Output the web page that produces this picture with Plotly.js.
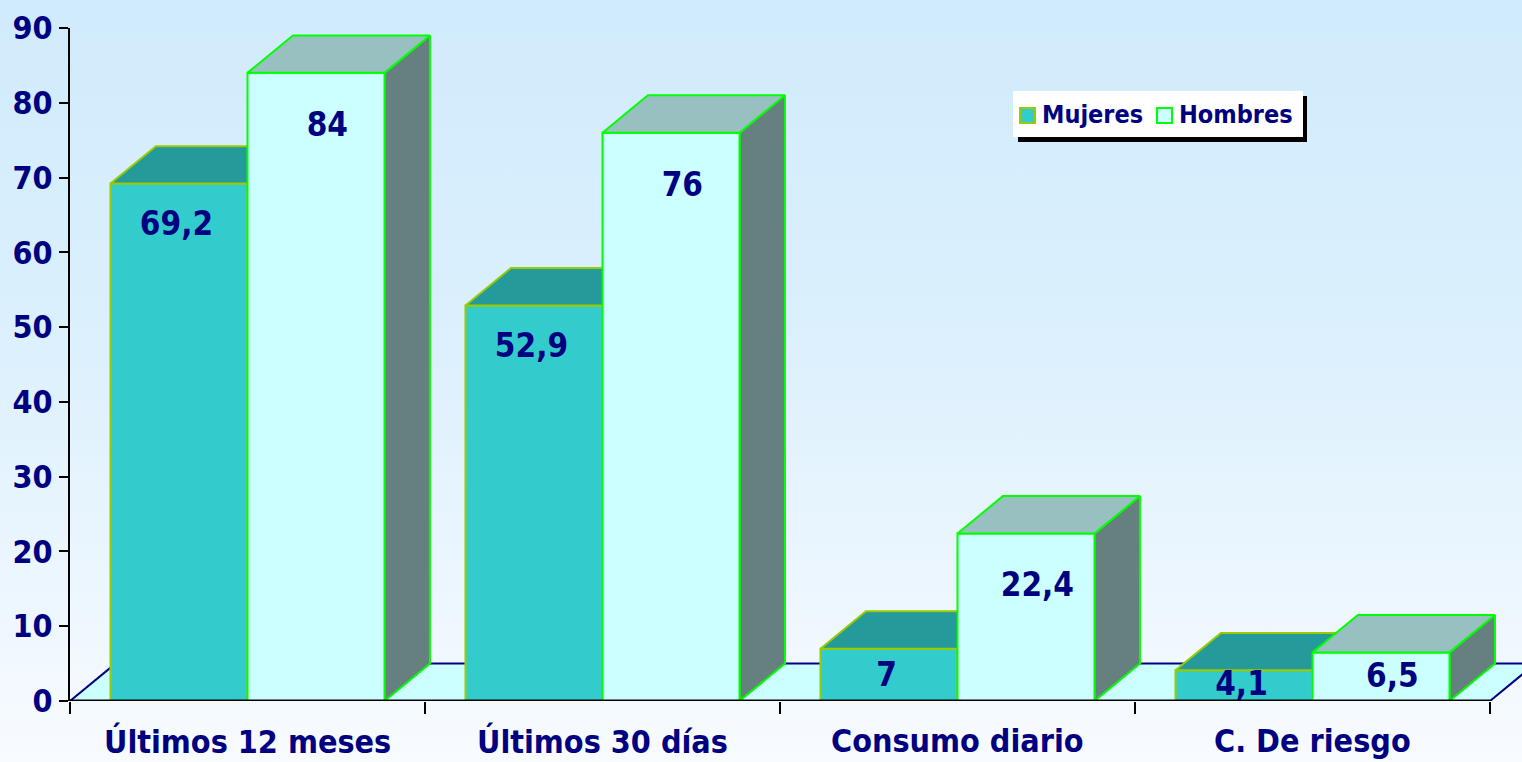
<!DOCTYPE html>
<html>
<head>
<meta charset="utf-8">
<script src="https://cdn.plot.ly/plotly-3.0.1.min.js"></script>
<style>
  html, body { margin: 0; padding: 0; }
  body { width: 1522px; height: 762px; background: linear-gradient(to bottom, #d0ebfc 0%, #dcf0fd 45%, #f8fbff 100%); overflow: hidden; }
  #chart { width: 1522px; height: 762px; }
</style>
</head>
<body>
<div id="chart"></div>
<script>
// ---- data ----
const categories = ['Últimos 12 meses', 'Últimos 30 días', 'Consumo diario', 'C. De riesgo'];
const seriesNames = ['Mujeres', 'Hombres'];
const mujeres = [69.2, 52.9, 7, 4.1];
const hombres = [84, 76, 22.4, 6.5];
const yTicks = [0, 10, 20, 30, 40, 50, 60, 70, 80, 90];

// ---- style ----
const FONT = 'DejaVu Sans Condensed, DejaVu Sans, sans-serif';
const NAVY = '#000080';
const barW = 0.386;     // bar width in category units
const dX = 0.128;       // 3D depth offset (x, category units)
const dY = 5.0;         // 3D depth offset (y, value units)
const styles = [
  { front: '#33cccc', top: '#259a9a', side: '#1f8080', line: '#99cc00', lblDx: -0.2, lblOff: 5.8 },
  { front: '#ccffff', top: '#99c0c0', side: '#668080', line: '#00ff00', lblDx: 0.225, lblOff: 7.3 }
];
const L = 70, R = 0, T = 28, B = 61, W = 1522, H = 762;
const plotW = W - L - R, plotH = H - T - B;
const xMin = -0.5, xMax = -0.5 + plotW / 355;

const traces = [];
function poly(xs, ys, fill, line, lw) {
  traces.push({
    type: 'scatter', mode: 'lines', x: xs.concat([xs[0]]), y: ys.concat([ys[0]]),
    fill: 'toself', fillcolor: fill, line: { color: line, width: lw === undefined ? 2 : lw },
    hoverinfo: 'skip', showlegend: false
  });
}

// floor
const n = categories.length;
poly([-0.5, n - 0.5, n - 0.5 + dX, -0.5 + dX], [0, 0, dY, dY], '#ccffff', NAVY, 2);

// 3D bars
const series = [mujeres, hombres];
const lblX = [], lblY = [], lblT = [];
for (let i = 0; i < n; i++) {
  series.forEach((vals, s) => {
    const v = vals[i];
    const st = styles[s];
    const x0 = s === 0 ? i - barW : i;
    const x1 = x0 + barW;
    poly([x1, x1 + dX, x1 + dX, x1], [0, dY, v + dY, v], st.side, st.line);   // side
    poly([x0, x1, x1, x0], [0, 0, v, v], st.front, st.line);                   // front
    poly([x0, x1, x1 + dX, x0 + dX], [v, v, v + dY, v + dY], st.top, st.line); // top
    lblX.push(i + st.lblDx);
    lblY.push(v - Math.min(v * 0.55, st.lblOff));
    lblT.push(String(v).replace('.', ','));
  });
}
traces.push({
  type: 'scatter', mode: 'text', x: lblX, y: lblY, text: lblT,
  textposition: 'middle center', cliponaxis: false,
  textfont: { family: FONT, size: 33, color: NAVY, weight: 'bold' },
  hoverinfo: 'skip', showlegend: false
});

// ---- layout helpers (pixel -> paper) ----
const px = v => (v - L) / plotW;
const py = v => (H - B - v) / plotH;

const shapes = [
  { type: 'line', xref: 'x', yref: 'y', x0: -0.5, x1: n - 0.5, y0: 0, y1: 0, line: { color: '#000000', width: 3 }, layer: 'above' },
  { type: 'rect', xref: 'paper', yref: 'paper', x0: px(1018), x1: px(1307), y0: py(142), y1: py(96), fillcolor: '#000000', line: { width: 0 }, layer: 'above' },
  { type: 'rect', xref: 'paper', yref: 'paper', x0: px(1013), x1: px(1303), y0: py(137), y1: py(91), fillcolor: '#ffffff', line: { width: 0 }, layer: 'above' },
  { type: 'rect', xref: 'paper', yref: 'paper', x0: px(1020), x1: px(1035), y0: py(123), y1: py(108), fillcolor: styles[0].front, line: { color: styles[0].line, width: 2 }, layer: 'above' },
  { type: 'rect', xref: 'paper', yref: 'paper', x0: px(1157), x1: px(1172), y0: py(123), y1: py(108), fillcolor: styles[1].front, line: { color: styles[1].line, width: 2 }, layer: 'above' }
];

const annotations = categories.map((c, i) => ({
  x: i, y: 0, xref: 'x', yref: 'paper', text: c, showarrow: false,
  xanchor: 'center', yanchor: 'middle', yshift: -40,
  font: { family: FONT, size: 32, color: NAVY, weight: 'bold' }
}));
annotations.push(
  { x: px(1040), y: py(115), xref: 'paper', yref: 'paper', text: seriesNames[0], showarrow: false, xanchor: 'left', yanchor: 'middle',
    font: { family: FONT, size: 25, color: NAVY, weight: 'bold' } },
  { x: px(1177), y: py(115), xref: 'paper', yref: 'paper', text: seriesNames[1], showarrow: false, xanchor: 'left', yanchor: 'middle',
    font: { family: FONT, size: 25, color: NAVY, weight: 'bold' } }
);

const layout = {
  width: W, height: H,
  margin: { l: L, r: R, t: T, b: B, pad: 0 },
  paper_bgcolor: 'rgba(0,0,0,0)', plot_bgcolor: 'rgba(0,0,0,0)',
  showlegend: false,
  xaxis: {
    range: [xMin, xMax], showgrid: false, zeroline: false, showline: false,
    tickmode: 'array', tickvals: [-0.5, 0.5, 1.5, 2.5, 3.5], showticklabels: false,
    ticks: 'outside', ticklen: 12, tickwidth: 2, tickcolor: '#000000', fixedrange: true
  },
  yaxis: {
    range: [0, 90], showgrid: false, zeroline: false, showline: true, linecolor: '#000000', linewidth: 2,
    tickmode: 'array', tickvals: yTicks, ticktext: yTicks.map(String),
    ticks: 'outside', ticklen: 9, tickwidth: 2, tickcolor: '#000000',
    tickfont: { family: FONT, size: 32, color: NAVY, weight: 'bold' }, fixedrange: true
  },
  shapes: shapes,
  annotations: annotations
};

Plotly.newPlot('chart', traces, layout, { displayModeBar: false, staticPlot: true });
</script>
</body>
</html>
